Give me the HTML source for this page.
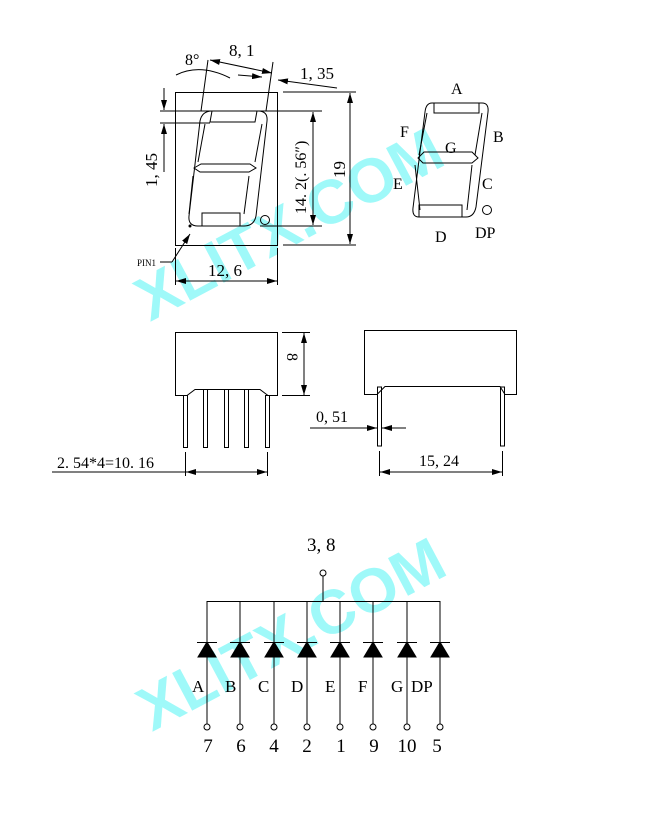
<!DOCTYPE html>
<html><head><meta charset="utf-8"><style>
html,body{margin:0;padding:0;background:#fff;width:650px;height:818px;overflow:hidden}
svg{display:block}
text{font-family:"Liberation Serif",serif;fill:#000}
</style></head><body>
<svg width="650" height="818" viewBox="0 0 650 818" xmlns="http://www.w3.org/2000/svg">
<defs>
<marker id="a" viewBox="0 0 10 6" refX="10" refY="3" markerWidth="10" markerHeight="6" orient="auto-start-reverse" markerUnits="userSpaceOnUse"><path d="M0,0 L10,3 L0,6z" fill="#000"/></marker>
</defs>
<!-- watermarks -->
<text x="0" y="0" transform="translate(150,322) rotate(-28)" style="font-family:'Liberation Sans',sans-serif;font-weight:bold;font-size:62px;fill:#9ff9f9">XLITX.COM</text>
<text x="0" y="0" transform="translate(152,732) rotate(-28)" style="font-family:'Liberation Sans',sans-serif;font-weight:bold;font-size:62px;fill:#9ff9f9">XLITX.COM</text>
<g stroke="#000" stroke-width="1" fill="none">
<!-- front view -->
<rect x="175.5" y="92.5" width="102" height="153"/>
<!-- digit outline -->
<path d="M212,111 L258,111 Q268,111 267,121 L256,216 Q254,226 244,226 L198,226 Q188,226 189,216 L200,121 Q202,111 212,111z"/>
<path d="M212,111 L210,122 L255,122 L257,111"/>
<path d="M205,124 L198,162"/>
<path d="M262,124 L255,162"/>
<path d="M194,168 L201,164 L250,164 L256,168 L249,172 L200,172 z"/>
<path d="M193,176 L189,214"/>
<path d="M249,176 L244,214"/>
<rect x="202" y="213" width="38" height="13"/>
<circle cx="265" cy="220" r="4.5"/>
<!-- slant lines up -->
<line x1="201" y1="111" x2="208" y2="60"/>
<line x1="266" y1="111" x2="273" y2="62"/>
<!-- 8,1 -->
<line x1="210" y1="60" x2="272" y2="73" marker-start="url(#a)" marker-end="url(#a)"/>
<!-- 1,35 -->
<line x1="238" y1="75" x2="262" y2="77" marker-end="url(#a)"/>
<line x1="337" y1="88" x2="278" y2="80" marker-end="url(#a)"/>
<!-- 8 deg arc -->
<path d="M176,75 Q200,63 230,78"/>
<!-- extension lines -->
<line x1="160" y1="111" x2="322" y2="111"/>
<line x1="160" y1="123" x2="210" y2="123"/>
<line x1="260" y1="226" x2="322" y2="226"/>
<line x1="283" y1="92" x2="356" y2="92"/>
<line x1="283" y1="245" x2="356" y2="245"/>
<line x1="313" y1="112" x2="313" y2="225" marker-start="url(#a)" marker-end="url(#a)"/>
<line x1="350" y1="93" x2="350" y2="244" marker-start="url(#a)" marker-end="url(#a)"/>
<line x1="164" y1="88" x2="164" y2="110" marker-end="url(#a)"/>
<line x1="164" y1="172" x2="164" y2="124" marker-end="url(#a)"/>
<!-- pin1 -->
<line x1="160" y1="262" x2="172" y2="262"/>
<line x1="172" y1="262" x2="190" y2="234" marker-end="url(#a)"/>
<!-- 12,6 -->
<line x1="175.5" y1="248" x2="175.5" y2="285"/>
<line x1="277.5" y1="248" x2="277.5" y2="285"/>
<line x1="176" y1="281" x2="277" y2="281" marker-start="url(#a)" marker-end="url(#a)"/>
<!-- right digit -->
<path d="M432,103 L482,103 Q489,103 488,112 L476,207 Q474,217 466,217 L419,217 Q412,217 413,208 L425,112 Q426,103 432,103z"/>
<rect x="434" y="103" width="45" height="10"/>
<path d="M427,113 L419,155"/>
<path d="M482,113 L475,155"/>
<path d="M418,158 L424,152 L472,152 L478,158 L472,163 L423,163 z"/>
<path d="M415,165 L420,210"/>
<path d="M472,165 L467,210"/>
<rect x="419" y="205" width="43" height="12"/>
<circle cx="487" cy="210" r="4.5"/>
<!-- left side view -->
<path d="M175.5,395.5 L175.5,332.5 L277.5,332.5 L277.5,395.5 L268,395.5 L260,389.5 L195,389.5 L187,395.5 Z"/>
<rect x="183.5" y="395.5" width="4" height="52"/>
<rect x="203.5" y="389.5" width="4" height="58"/>
<rect x="224.5" y="389.5" width="4" height="58"/>
<rect x="244.5" y="389.5" width="4" height="58"/>
<rect x="265.5" y="395.5" width="4" height="52"/>
<line x1="282" y1="332.5" x2="310" y2="332.5"/>
<line x1="282" y1="395.5" x2="310" y2="395.5"/>
<line x1="304" y1="333" x2="304" y2="395" marker-start="url(#a)" marker-end="url(#a)"/>
<line x1="185.5" y1="452" x2="185.5" y2="476"/>
<line x1="267.5" y1="452" x2="267.5" y2="476"/>
<line x1="52" y1="472" x2="185" y2="472"/>
<line x1="186" y1="472" x2="267" y2="472" marker-start="url(#a)" marker-end="url(#a)"/>
<!-- right side view -->
<path d="M364.5,394.5 L364.5,330.5 L516.5,330.5 L516.5,394.5 L505,394.5 L500,386.5 L385,386.5 L377,394.5 Z"/>
<rect x="377.5" y="387" width="4" height="59"/>
<rect x="500.5" y="387" width="4" height="59"/>
<line x1="310" y1="428" x2="377" y2="428" marker-end="url(#a)"/>
<line x1="406" y1="428" x2="382" y2="428" marker-end="url(#a)"/>
<line x1="379.5" y1="451" x2="379.5" y2="476"/>
<line x1="502.5" y1="451" x2="502.5" y2="476"/>
<line x1="380" y1="472" x2="502" y2="472" marker-start="url(#a)" marker-end="url(#a)"/>
<!-- circuit -->
<circle cx="323" cy="573" r="3"/>
<line x1="323" y1="576" x2="323" y2="601"/>
<line x1="207" y1="601.5" x2="440" y2="601.5"/>
</g>
<g stroke="#000" stroke-width="1" fill="none">
<g transform="translate(207,0)"><line x1="0" y1="601" x2="0" y2="724"/><line x1="-10" y1="642.5" x2="10" y2="642.5"/><path d="M0,642 L9,657 L-9,657z" fill="#000"/><circle cx="0" cy="727" r="3"/></g>
<g transform="translate(240,0)"><line x1="0" y1="601" x2="0" y2="724"/><line x1="-10" y1="642.5" x2="10" y2="642.5"/><path d="M0,642 L9,657 L-9,657z" fill="#000"/><circle cx="0" cy="727" r="3"/></g>
<g transform="translate(274,0)"><line x1="0" y1="601" x2="0" y2="724"/><line x1="-10" y1="642.5" x2="10" y2="642.5"/><path d="M0,642 L9,657 L-9,657z" fill="#000"/><circle cx="0" cy="727" r="3"/></g>
<g transform="translate(307,0)"><line x1="0" y1="601" x2="0" y2="724"/><line x1="-10" y1="642.5" x2="10" y2="642.5"/><path d="M0,642 L9,657 L-9,657z" fill="#000"/><circle cx="0" cy="727" r="3"/></g>
<g transform="translate(340,0)"><line x1="0" y1="601" x2="0" y2="724"/><line x1="-10" y1="642.5" x2="10" y2="642.5"/><path d="M0,642 L9,657 L-9,657z" fill="#000"/><circle cx="0" cy="727" r="3"/></g>
<g transform="translate(373,0)"><line x1="0" y1="601" x2="0" y2="724"/><line x1="-10" y1="642.5" x2="10" y2="642.5"/><path d="M0,642 L9,657 L-9,657z" fill="#000"/><circle cx="0" cy="727" r="3"/></g>
<g transform="translate(407,0)"><line x1="0" y1="601" x2="0" y2="724"/><line x1="-10" y1="642.5" x2="10" y2="642.5"/><path d="M0,642 L9,657 L-9,657z" fill="#000"/><circle cx="0" cy="727" r="3"/></g>
<g transform="translate(440,0)"><line x1="0" y1="601" x2="0" y2="724"/><line x1="-10" y1="642.5" x2="10" y2="642.5"/><path d="M0,642 L9,657 L-9,657z" fill="#000"/><circle cx="0" cy="727" r="3"/></g>
</g>
<circle cx="190" cy="226" r="1.5" fill="#000"/>
<g font-size="16">
<text x="185" y="65">8°</text>
<text x="229" y="56" font-size="17">8, 1</text>
<text x="300" y="79" font-size="17">1, 35</text>
<text x="157" y="187" transform="rotate(-90 157 187)" font-size="17">1, 45</text>
<text x="306" y="214" transform="rotate(-90 306 214)">14. 2(. 56″)</text>
<text x="345" y="178" transform="rotate(-90 345 178)" font-size="17">19</text>
<text x="137" y="266" font-size="9">PIN1</text>
<text x="208" y="276" font-size="17">12, 6</text>
<text x="451" y="94">A</text>
<text x="400" y="137">F</text>
<text x="493" y="142">B</text>
<text x="445" y="153">G</text>
<text x="393" y="189">E</text>
<text x="482" y="189">C</text>
<text x="435" y="242">D</text>
<text x="475" y="238">DP</text>
<text x="288" y="362" transform="rotate(90 292 357)">8</text>
<text x="57" y="468">2. 54*4=10. 16</text>
<text x="316" y="422">0, 51</text>
<text x="419" y="466">15, 24</text>
<text x="307" y="551" font-size="19">3, 8</text>
<g font-size="17">
<text x="192" y="692">A</text><text x="225" y="692">B</text><text x="258" y="692">C</text><text x="291" y="692">D</text><text x="325" y="692">E</text><text x="358" y="692">F</text><text x="391" y="692">G</text><text x="411" y="692">DP</text>
</g>
<g font-size="19" text-anchor="middle">
<text x="208" y="752">7</text><text x="241" y="752">6</text><text x="274" y="752">4</text><text x="307" y="752">2</text><text x="341" y="752">1</text><text x="374" y="752">9</text><text x="407" y="752">10</text><text x="437" y="752">5</text>
</g>
</g>
</svg>
</body></html>
